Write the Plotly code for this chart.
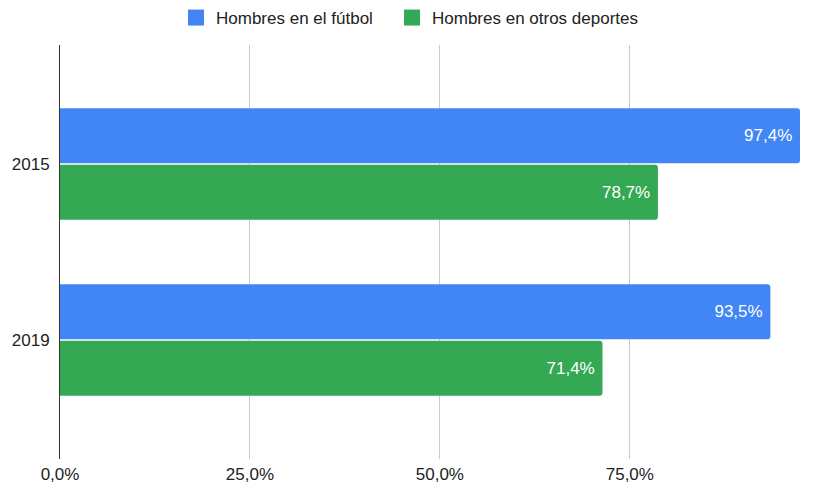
import plotly.graph_objects as go

years = ["2015", "2019"]
futbol = [97.4, 93.5]
otros = [78.7, 71.4]
series_names = ["Hombres en el fútbol", "Hombres en otros deportes"]
colors = ["#4285F4", "#34A853"]
tick_vals = [0, 25, 50, 75]
tick_text = ["0,0%", "25,0%", "50,0%", "75,0%"]

FONT = "Liberation Sans, Arial, sans-serif"
FS = 17

fig = go.Figure()
for name, vals, col in zip(series_names, [futbol, otros], colors):
    fig.add_trace(go.Bar(
        y=years, x=vals, orientation="h", name=name, showlegend=False,
        marker=dict(color=col, line=dict(width=0)),
        texttemplate="%{x:.1f}%\u00a0", textposition="inside", insidetextanchor="end",
        textfont=dict(color="white", size=FS, family=FONT),
        hoverinfo="skip",
    ))
# legend entries (large square swatches), one legend each for exact placement
for name, col, lg in zip(series_names, colors, ["legend", "legend2"]):
    fig.add_trace(go.Scatter(
        x=[None], y=[None], mode="markers", name=name, showlegend=True,
        marker=dict(symbol="square", size=18, color=col),
        hoverinfo="skip", legend=lg,
    ))

W, H = 810, 483
leg_common = dict(orientation="h", yref="container", xref="container",
                  xanchor="left", yanchor="middle", y=1 - 10 / H,
                  font=dict(size=FS, color="#222222"), itemwidth=30,
                  bgcolor="rgba(0,0,0,0)")

fig.update_layout(
    width=W, height=H,
    margin=dict(l=52, r=18, t=37, b=32, autoexpand=False),
    paper_bgcolor="white", plot_bgcolor="white",
    barmode="group", bargap=0.358, bargroupgap=0.03,
    barcornerradius=3,
    separators=",.",
    font=dict(family=FONT, size=FS, color="#222222"),
    showlegend=True,
    legend=dict(x=168 / W, **leg_common),
    legend2=dict(x=384 / W, **leg_common),
    xaxis=dict(range=[0, 97.4], tickvals=tick_vals, ticktext=tick_text,
               showgrid=True, gridcolor="#cccccc", gridwidth=1,
               zeroline=False, showline=False, ticks="", automargin=False,
               ticklabelstandoff=3,
               tickfont=dict(size=FS, color="#222222")),
    yaxis=dict(type="category", range=[1.676, -0.676], showgrid=False,
               showline=True, linecolor="#333333", linewidth=1, ticks="",
               zeroline=False, automargin=False, ticklabelstandoff=6,
               tickfont=dict(size=FS, color="#222222")),
)

fig.write_html("out.html")
